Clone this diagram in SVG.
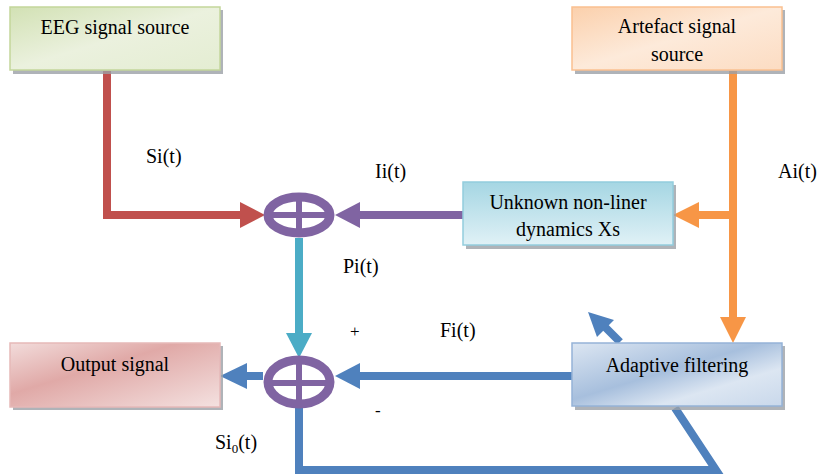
<svg xmlns="http://www.w3.org/2000/svg" width="819" height="476" viewBox="0 0 819 476">
<defs>
<linearGradient id="gGreen" x1="0" y1="0" x2="1" y2="1"><stop offset="0" stop-color="#D2E1B4"/><stop offset="0.5" stop-color="#EBF1DE"/><stop offset="1" stop-color="#E4EDD2"/></linearGradient>
<linearGradient id="gOrange" x1="0" y1="0" x2="1" y2="1"><stop offset="0" stop-color="#FBD0AC"/><stop offset="0.5" stop-color="#FDEADA"/><stop offset="1" stop-color="#FCDCC2"/></linearGradient>
<linearGradient id="gCyan" x1="0" y1="0" x2="0" y2="1"><stop offset="0" stop-color="#A5D6E3"/><stop offset="1" stop-color="#E0F1F6"/></linearGradient>
<linearGradient id="gRed" x1="0" y1="0" x2="1" y2="1"><stop offset="0" stop-color="#F2DCDB"/><stop offset="0.4" stop-color="#E0A9A7"/><stop offset="1" stop-color="#F4E1E0"/></linearGradient>
<linearGradient id="gBlue" x1="0" y1="0" x2="1" y2="1"><stop offset="0" stop-color="#DCE6F2"/><stop offset="0.45" stop-color="#A7BFDD"/><stop offset="0.7" stop-color="#DCE6F2"/><stop offset="1" stop-color="#C9D8EB"/></linearGradient>
</defs>
<g id="connectors" fill="none" stroke-width="8">
<polyline stroke="#C0504D" points="107,71 107,215 242,215"/>
<polygon fill="#C0504D" stroke="none" points="240,202 265,215 240,228"/>
<line stroke="#8064A2" x1="463" y1="215" x2="358" y2="215"/>
<polygon fill="#8064A2" stroke="none" points="360,202 335,215 360,228"/>
<line stroke="#F79646" x1="733" y1="71" x2="733" y2="320"/>
<line stroke="#F79646" x1="733" y1="215" x2="697" y2="215"/>
<polygon fill="#F79646" stroke="none" points="699,202 673,215 699,228"/>
<polygon fill="#F79646" stroke="none" points="720,317 733,343 746,317"/>
<line stroke="#4BACC6" x1="299" y1="238" x2="299" y2="335"/>
<polygon fill="#4BACC6" stroke="none" points="286,333 299,358 312,333"/>
<line stroke="#4F81BD" x1="572" y1="376" x2="358" y2="376"/>
<polygon fill="#4F81BD" stroke="none" points="360,363 335,376 360,389"/>
<line stroke="#4F81BD" x1="263" y1="376" x2="245" y2="376"/>
<polygon fill="#4F81BD" stroke="none" points="247,363 220,376 247,389"/>
<polyline stroke="#4F81BD" points="299,405 299,470 716,470 675,408"/>
<line stroke="#4F81BD" x1="620" y1="342" x2="603" y2="325"/>
<polygon fill="#4F81BD" stroke="none" points="588,312 614,320 597,337"/>
</g>
<g id="sum1" fill="none" stroke="#8064A2">
<ellipse cx="299" cy="215" rx="31" ry="18" stroke-width="9"/>
<line x1="267" y1="215" x2="331" y2="215" stroke-width="6"/>
<line x1="299" y1="196" x2="299" y2="234" stroke-width="6"/>
</g>
<g id="sum2" fill="none" stroke="#8064A2">
<ellipse cx="299" cy="382" rx="31" ry="22" stroke-width="9"/>
<line x1="267" y1="383" x2="331" y2="383" stroke-width="6"/>
<line x1="299" y1="359" x2="299" y2="405" stroke-width="6"/>
</g>
<g id="eeg">
<rect x="13" y="10" width="210" height="64" fill="#9BA0A6" opacity="0.8"/>
<rect x="10" y="7" width="210" height="63" fill="url(#gGreen)" stroke="#C3D69B" stroke-width="1.5"/>
<text x="115" y="34" text-anchor="middle" font-family="Times New Roman" font-size="20">EEG signal source</text>
</g>
<g id="artefact">
<rect x="575" y="10" width="210" height="64" fill="#9BA0A6" opacity="0.8"/>
<rect x="572" y="7" width="210" height="63" fill="url(#gOrange)" stroke="#FAC090" stroke-width="1.5"/>
<text x="677" y="33" text-anchor="middle" font-family="Times New Roman" font-size="20">Artefact signal</text>
<text x="677" y="61" text-anchor="middle" font-family="Times New Roman" font-size="20">source</text>
</g>
<g id="unknown">
<rect x="466" y="185" width="210" height="64" fill="#9BA0A6" opacity="0.8"/>
<rect x="463" y="182" width="210" height="63" fill="url(#gCyan)" stroke="#93CDDD" stroke-width="1.5"/>
<text x="568" y="209" text-anchor="middle" font-family="Times New Roman" font-size="20">Unknown non-liner</text>
<text x="568" y="236" text-anchor="middle" font-family="Times New Roman" font-size="20">dynamics Xs</text>
</g>
<g id="adaptive">
<rect x="575" y="346" width="210" height="64" fill="#9BA0A6" opacity="0.8"/>
<rect x="572" y="343" width="210" height="63" fill="url(#gBlue)" stroke="#95B3D7" stroke-width="1.5"/>
<text x="677" y="372" text-anchor="middle" font-family="Times New Roman" font-size="20">Adaptive filtering</text>
</g>
<g id="output">
<rect x="13" y="346" width="210" height="64" fill="#9BA0A6" opacity="0.8"/>
<rect x="10" y="343" width="210" height="64" fill="url(#gRed)" stroke="#E6B9B8" stroke-width="1.5"/>
<text x="115" y="371" text-anchor="middle" font-family="Times New Roman" font-size="20">Output signal</text>
</g>
<g id="labels">
<text x="146" y="163" font-family="Times New Roman" font-size="20">Si(t)</text>
<text x="375" y="178" font-family="Times New Roman" font-size="20">Ii(t)</text>
<text x="778" y="178" font-family="Times New Roman" font-size="20">Ai(t)</text>
<text x="343" y="273" font-family="Times New Roman" font-size="20">Pi(t)</text>
<text x="350" y="337" font-family="Times New Roman" font-size="17">+</text>
<text x="440" y="337" font-family="Times New Roman" font-size="20">Fi(t)</text>
<text x="375" y="416" font-family="Times New Roman" font-size="17">-</text>
<text x="215" y="449" font-family="Times New Roman" font-size="20">Si<tspan font-size="13" dy="4">0</tspan><tspan dy="-4">(t)</tspan></text>
</g>
</svg>
